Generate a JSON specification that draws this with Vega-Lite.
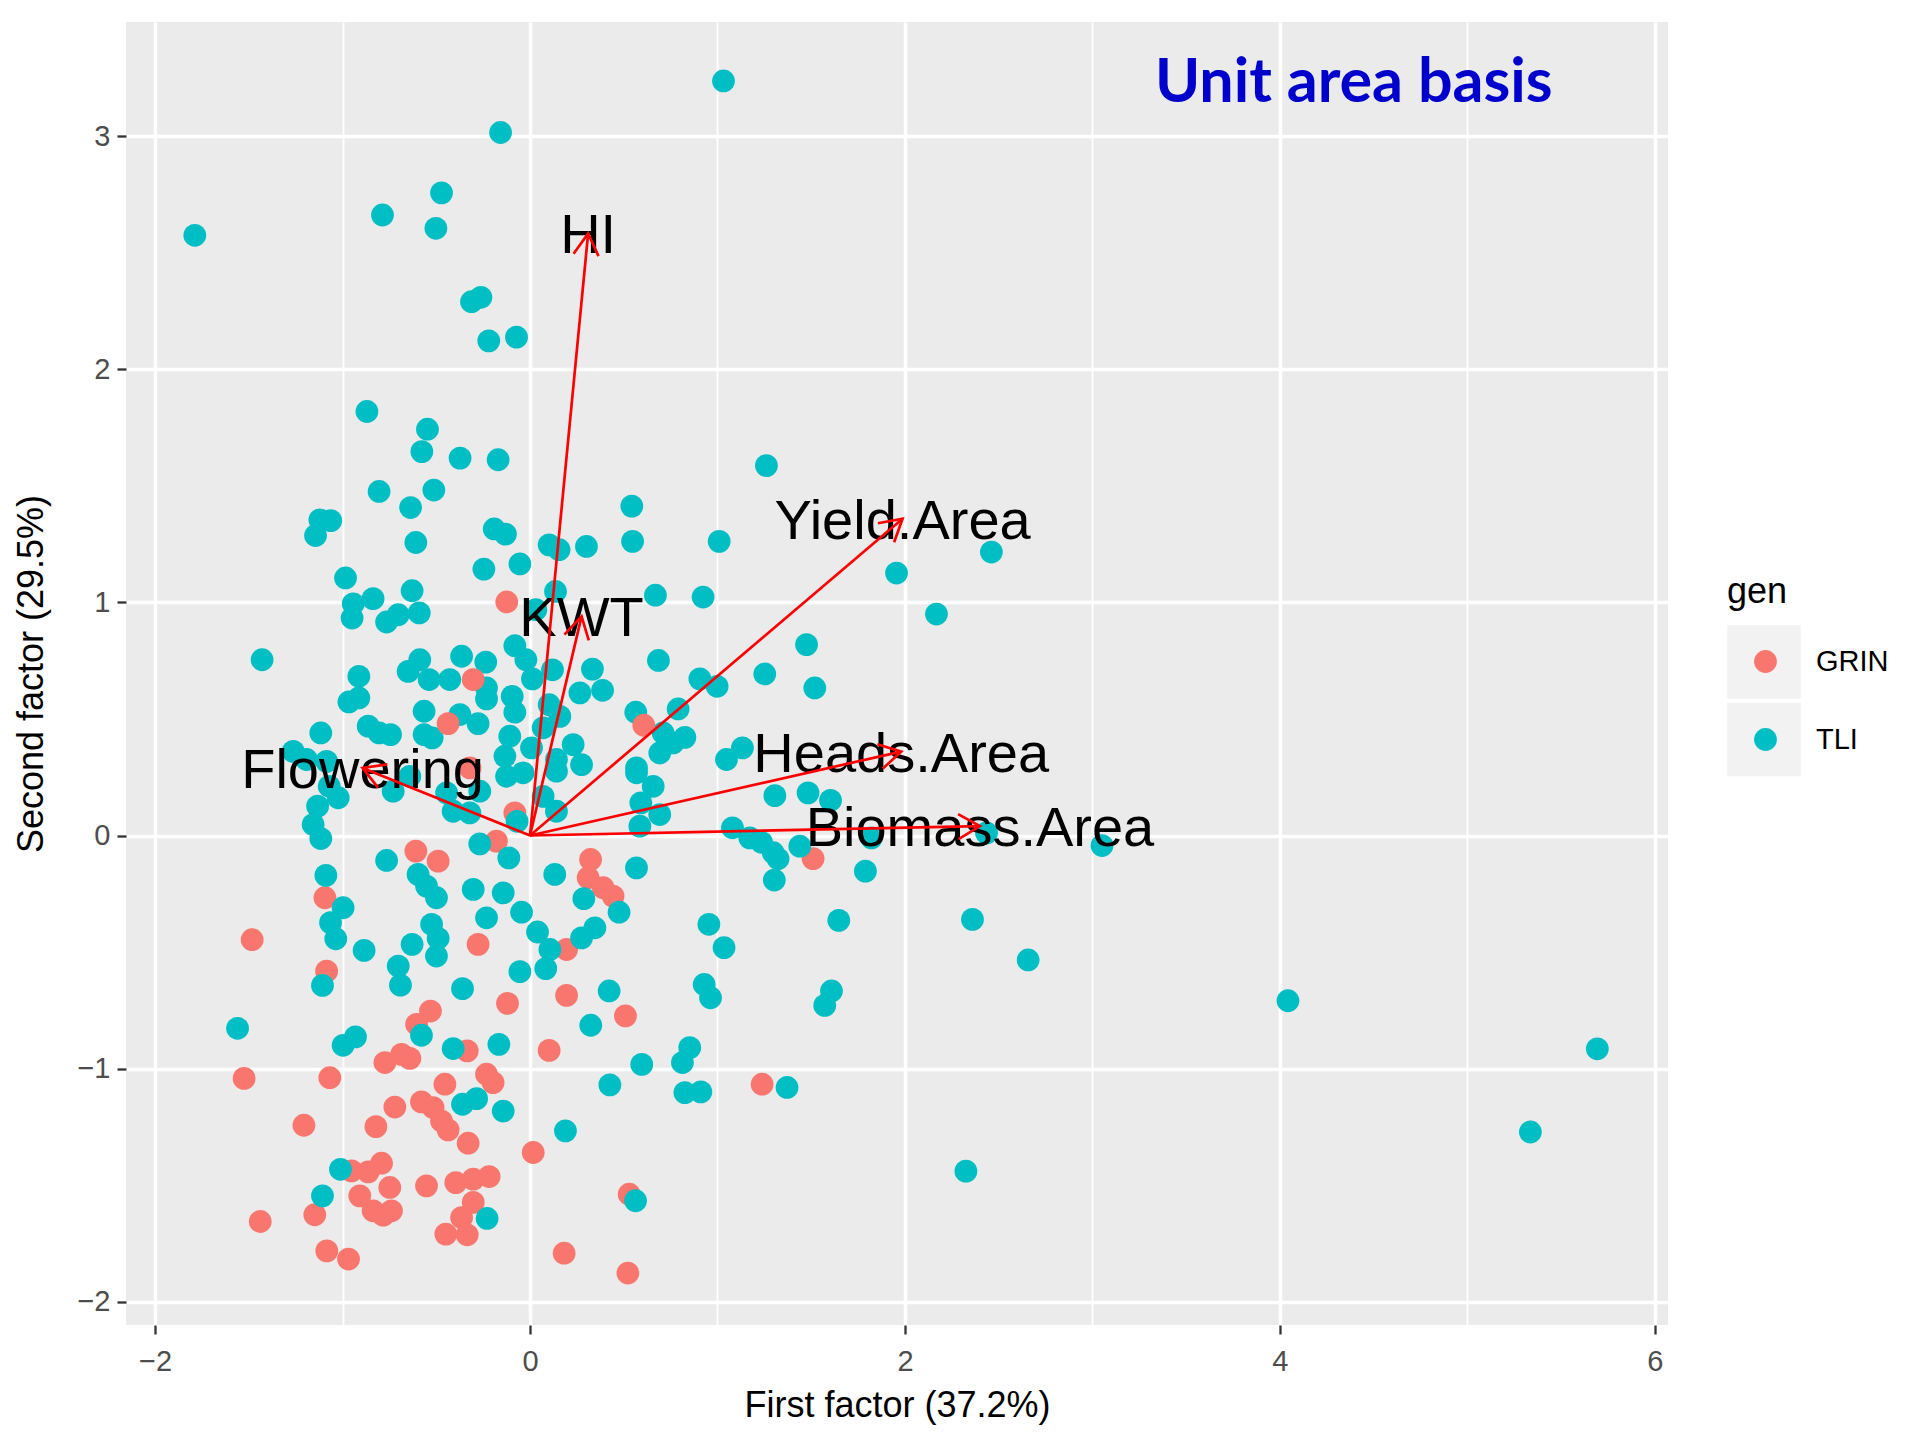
{
  "$schema": "https://vega.github.io/schema/vega-lite/v6.json",
  "width": 1542,
  "height": 1303,
  "autosize": {"type": "none"},
  "padding": {"left": 126, "top": 22, "right": 252, "bottom": 115},
  "background": "white",
  "config": {"view": {"fill": "#EBEBEB", "stroke": null}, "font": "Liberation Sans"},
  "datasets": {
    "pts": [
      {"f1": -0.32, "f2": 0.29, "gen": "GRIN"}, {"f1": -0.081, "f2": 0.097, "gen": "GRIN"}, {"f1": -0.179, "f2": -0.024, "gen": "GRIN"},
      {"f1": -0.609, "f2": -0.067, "gen": "GRIN"}, {"f1": -0.49, "f2": -0.11, "gen": "GRIN"}, {"f1": -1.094, "f2": -0.267, "gen": "GRIN"},
      {"f1": -0.277, "f2": -0.467, "gen": "GRIN"}, {"f1": 0.195, "f2": -0.489, "gen": "GRIN"}, {"f1": -1.085, "f2": -0.582, "gen": "GRIN"},
      {"f1": -0.12, "f2": -0.72, "gen": "GRIN"}, {"f1": 0.195, "f2": -0.686, "gen": "GRIN"}, {"f1": -1.482, "f2": -0.447, "gen": "GRIN"},
      {"f1": -0.531, "f2": -0.753, "gen": "GRIN"}, {"f1": -0.605, "f2": -0.81, "gen": "GRIN"}, {"f1": -0.335, "f2": -0.924, "gen": "GRIN"},
      {"f1": 0.102, "f2": -0.922, "gen": "GRIN"}, {"f1": -0.774, "f2": -0.974, "gen": "GRIN"}, {"f1": -0.685, "f2": -0.939, "gen": "GRIN"},
      {"f1": -0.641, "f2": -0.956, "gen": "GRIN"}, {"f1": -1.525, "f2": -1.042, "gen": "GRIN"}, {"f1": -1.068, "f2": -1.039, "gen": "GRIN"},
      {"f1": -0.232, "f2": -1.024, "gen": "GRIN"}, {"f1": -0.197, "f2": -1.06, "gen": "GRIN"}, {"f1": -0.454, "f2": -1.067, "gen": "GRIN"},
      {"f1": -0.579, "f2": -1.143, "gen": "GRIN"}, {"f1": -0.517, "f2": -1.167, "gen": "GRIN"}, {"f1": -0.721, "f2": -1.165, "gen": "GRIN"},
      {"f1": -0.472, "f2": -1.225, "gen": "GRIN"}, {"f1": -0.437, "f2": -1.263, "gen": "GRIN"}, {"f1": -0.822, "f2": -1.249, "gen": "GRIN"},
      {"f1": -1.206, "f2": -1.243, "gen": "GRIN"}, {"f1": -0.33, "f2": -1.32, "gen": "GRIN"}, {"f1": 0.017, "f2": -1.36, "gen": "GRIN"},
      {"f1": -0.952, "f2": -1.439, "gen": "GRIN"}, {"f1": -0.863, "f2": -1.443, "gen": "GRIN"}, {"f1": -0.792, "f2": -1.406, "gen": "GRIN"},
      {"f1": -0.748, "f2": -1.51, "gen": "GRIN"}, {"f1": -0.908, "f2": -1.546, "gen": "GRIN"}, {"f1": -0.837, "f2": -1.61, "gen": "GRIN"},
      {"f1": -0.783, "f2": -1.629, "gen": "GRIN"}, {"f1": -0.739, "f2": -1.61, "gen": "GRIN"}, {"f1": -1.148, "f2": -1.627, "gen": "GRIN"},
      {"f1": -0.552, "f2": -1.503, "gen": "GRIN"}, {"f1": -0.396, "f2": -1.489, "gen": "GRIN"}, {"f1": -0.303, "f2": -1.474, "gen": "GRIN"},
      {"f1": -0.218, "f2": -1.463, "gen": "GRIN"}, {"f1": -0.303, "f2": -1.574, "gen": "GRIN"}, {"f1": -0.365, "f2": -1.639, "gen": "GRIN"},
      {"f1": -0.449, "f2": -1.71, "gen": "GRIN"}, {"f1": -0.335, "f2": -1.713, "gen": "GRIN"}, {"f1": -1.439, "f2": -1.656, "gen": "GRIN"},
      {"f1": -1.084, "f2": -1.782, "gen": "GRIN"}, {"f1": -0.968, "f2": -1.817, "gen": "GRIN"}, {"f1": 0.182, "f2": -1.792, "gen": "GRIN"},
      {"f1": 0.529, "f2": -1.539, "gen": "GRIN"}, {"f1": 0.522, "f2": -1.877, "gen": "GRIN"}, {"f1": 1.238, "f2": -1.067, "gen": "GRIN"},
      {"f1": 0.323, "f2": -0.103, "gen": "GRIN"}, {"f1": 0.31, "f2": -0.181, "gen": "GRIN"}, {"f1": 0.39, "f2": -0.224, "gen": "GRIN"},
      {"f1": 0.443, "f2": -0.26, "gen": "GRIN"}, {"f1": 0.509, "f2": -0.774, "gen": "GRIN"}, {"f1": 1.51, "f2": -0.099, "gen": "GRIN"},

      {"f1": 1.032, "f2": 3.237, "gen": "TLI"}, {"f1": -0.157, "f2": 3.016, "gen": "TLI"}, {"f1": -0.472, "f2": 2.757, "gen": "TLI"},
      {"f1": -0.787, "f2": 2.662, "gen": "TLI"}, {"f1": -0.502, "f2": 2.605, "gen": "TLI"}, {"f1": -1.788, "f2": 2.575, "gen": "TLI"},
      {"f1": -0.262, "f2": 2.309, "gen": "TLI"}, {"f1": -0.312, "f2": 2.29, "gen": "TLI"}, {"f1": -0.22, "f2": 2.122, "gen": "TLI"},
      {"f1": -0.072, "f2": 2.138, "gen": "TLI"}, {"f1": -0.87, "f2": 1.819, "gen": "TLI"}, {"f1": -0.547, "f2": 1.743, "gen": "TLI"},
      {"f1": -0.577, "f2": 1.647, "gen": "TLI"}, {"f1": -0.373, "f2": 1.619, "gen": "TLI"}, {"f1": -0.17, "f2": 1.612, "gen": "TLI"},
      {"f1": -0.805, "f2": 1.476, "gen": "TLI"}, {"f1": -0.513, "f2": 1.482, "gen": "TLI"}, {"f1": -0.637, "f2": 1.407, "gen": "TLI"},
      {"f1": -1.121, "f2": 1.354, "gen": "TLI"}, {"f1": -1.063, "f2": 1.351, "gen": "TLI"}, {"f1": -1.144, "f2": 1.287, "gen": "TLI"},
      {"f1": -0.609, "f2": 1.257, "gen": "TLI"}, {"f1": -0.191, "f2": 1.315, "gen": "TLI"}, {"f1": -0.131, "f2": 1.293, "gen": "TLI"},
      {"f1": 0.102, "f2": 1.247, "gen": "TLI"}, {"f1": 0.155, "f2": 1.226, "gen": "TLI"}, {"f1": 0.301, "f2": 1.24, "gen": "TLI"},
      {"f1": -0.246, "f2": 1.143, "gen": "TLI"}, {"f1": -0.054, "f2": 1.165, "gen": "TLI"}, {"f1": -0.984, "f2": 1.105, "gen": "TLI"},
      {"f1": 0.136, "f2": 1.047, "gen": "TLI"}, {"f1": -0.629, "f2": 1.05, "gen": "TLI"}, {"f1": -0.837, "f2": 1.016, "gen": "TLI"},
      {"f1": -0.943, "f2": 0.994, "gen": "TLI"}, {"f1": -0.949, "f2": 0.933, "gen": "TLI"}, {"f1": -0.765, "f2": 0.916, "gen": "TLI"},
      {"f1": -0.703, "f2": 0.947, "gen": "TLI"}, {"f1": -0.591, "f2": 0.955, "gen": "TLI"}, {"f1": 0.031, "f2": 0.969, "gen": "TLI"},
      {"f1": -1.429, "f2": 0.754, "gen": "TLI"}, {"f1": -0.913, "f2": 0.683, "gen": "TLI"}, {"f1": -0.588, "f2": 0.754, "gen": "TLI"},
      {"f1": -0.65, "f2": 0.704, "gen": "TLI"}, {"f1": -0.538, "f2": 0.669, "gen": "TLI"}, {"f1": -0.428, "f2": 0.669, "gen": "TLI"},
      {"f1": -0.365, "f2": 0.769, "gen": "TLI"}, {"f1": -0.236, "f2": 0.744, "gen": "TLI"}, {"f1": -0.232, "f2": 0.633, "gen": "TLI"},
      {"f1": -0.232, "f2": 0.586, "gen": "TLI"}, {"f1": -0.081, "f2": 0.814, "gen": "TLI"}, {"f1": -0.022, "f2": 0.754, "gen": "TLI"},
      {"f1": 0.013, "f2": 0.672, "gen": "TLI"}, {"f1": 0.12, "f2": 0.711, "gen": "TLI"}, {"f1": -0.095, "f2": 0.597, "gen": "TLI"},
      {"f1": -0.081, "f2": 0.529, "gen": "TLI"}, {"f1": 0.102, "f2": 0.561, "gen": "TLI"}, {"f1": 0.159, "f2": 0.511, "gen": "TLI"},
      {"f1": -0.966, "f2": 0.573, "gen": "TLI"}, {"f1": -0.913, "f2": 0.59, "gen": "TLI"}, {"f1": -0.565, "f2": 0.533, "gen": "TLI"},
      {"f1": -0.374, "f2": 0.519, "gen": "TLI"}, {"f1": -0.277, "f2": 0.48, "gen": "TLI"}, {"f1": -0.863, "f2": 0.469, "gen": "TLI"},
      {"f1": -0.805, "f2": 0.44, "gen": "TLI"}, {"f1": -0.744, "f2": 0.433, "gen": "TLI"}, {"f1": -0.565, "f2": 0.433, "gen": "TLI"},
      {"f1": -0.522, "f2": 0.419, "gen": "TLI"}, {"f1": -0.108, "f2": 0.426, "gen": "TLI"}, {"f1": -1.116, "f2": 0.44, "gen": "TLI"},
      {"f1": 0.07, "f2": 0.462, "gen": "TLI"}, {"f1": 0.23, "f2": 0.39, "gen": "TLI"}, {"f1": 0.008, "f2": 0.376, "gen": "TLI"},
      {"f1": -0.134, "f2": 0.34, "gen": "TLI"}, {"f1": -1.263, "f2": 0.361, "gen": "TLI"}, {"f1": 0.141, "f2": 0.326, "gen": "TLI"},
      {"f1": -1.192, "f2": 0.326, "gen": "TLI"}, {"f1": -1.085, "f2": 0.318, "gen": "TLI"},
      {"f1": 1.261, "f2": 1.587, "gen": "TLI"}, {"f1": 0.543, "f2": 1.413, "gen": "TLI"}, {"f1": 0.547, "f2": 1.262, "gen": "TLI"},
      {"f1": 1.009, "f2": 1.262, "gen": "TLI"}, {"f1": 1.955, "f2": 1.126, "gen": "TLI"}, {"f1": 0.669, "f2": 1.031, "gen": "TLI"},
      {"f1": 0.923, "f2": 1.023, "gen": "TLI"}, {"f1": 2.168, "f2": 0.95, "gen": "TLI"}, {"f1": 1.475, "f2": 0.819, "gen": "TLI"},
      {"f1": 0.685, "f2": 0.751, "gen": "TLI"}, {"f1": 0.333, "f2": 0.714, "gen": "TLI"}, {"f1": 1.252, "f2": 0.693, "gen": "TLI"},
      {"f1": 0.906, "f2": 0.672, "gen": "TLI"}, {"f1": 0.998, "f2": 0.64, "gen": "TLI"}, {"f1": 1.519, "f2": 0.633, "gen": "TLI"},
      {"f1": 0.266, "f2": 0.612, "gen": "TLI"}, {"f1": 0.387, "f2": 0.623, "gen": "TLI"}, {"f1": 0.564, "f2": 0.529, "gen": "TLI"},
      {"f1": 0.79, "f2": 0.543, "gen": "TLI"}, {"f1": 0.826, "f2": 0.421, "gen": "TLI"}, {"f1": 0.763, "f2": 0.397, "gen": "TLI"},
      {"f1": 0.692, "f2": 0.354, "gen": "TLI"}, {"f1": 0.568, "f2": 0.29, "gen": "TLI"}, {"f1": 0.275, "f2": 0.304, "gen": "TLI"},
      {"f1": 1.133, "f2": 0.376, "gen": "TLI"}, {"f1": 1.048, "f2": 0.326, "gen": "TLI"}, {"f1": 0.71, "f2": 0.44, "gen": "TLI"},
      {"f1": 2.461, "f2": 1.216, "gen": "TLI"},
      {"f1": -1.133, "f2": 0.126, "gen": "TLI"}, {"f1": -1.157, "f2": 0.047, "gen": "TLI"}, {"f1": -1.116, "f2": -0.013, "gen": "TLI"},
      {"f1": -1.023, "f2": 0.162, "gen": "TLI"}, {"f1": -1.071, "f2": 0.211, "gen": "TLI"}, {"f1": -0.73, "f2": 0.19, "gen": "TLI"},
      {"f1": -0.641, "f2": 0.254, "gen": "TLI"}, {"f1": -0.41, "f2": 0.104, "gen": "TLI"}, {"f1": -0.321, "f2": 0.097, "gen": "TLI"},
      {"f1": -0.268, "f2": 0.19, "gen": "TLI"}, {"f1": -0.445, "f2": 0.183, "gen": "TLI"}, {"f1": -0.069, "f2": 0.061, "gen": "TLI"},
      {"f1": 0.07, "f2": 0.168, "gen": "TLI"}, {"f1": 0.141, "f2": 0.104, "gen": "TLI"}, {"f1": 0.141, "f2": 0.276, "gen": "TLI"},
      {"f1": -0.125, "f2": 0.254, "gen": "TLI"}, {"f1": -0.037, "f2": 0.269, "gen": "TLI"}, {"f1": -0.268, "f2": -0.036, "gen": "TLI"},
      {"f1": -0.113, "f2": -0.096, "gen": "TLI"}, {"f1": 0.132, "f2": -0.167, "gen": "TLI"}, {"f1": -0.765, "f2": -0.107, "gen": "TLI"},
      {"f1": -1.089, "f2": -0.171, "gen": "TLI"}, {"f1": -0.597, "f2": -0.167, "gen": "TLI"}, {"f1": -0.552, "f2": -0.217, "gen": "TLI"},
      {"f1": -0.499, "f2": -0.267, "gen": "TLI"}, {"f1": -0.303, "f2": -0.231, "gen": "TLI"}, {"f1": -0.143, "f2": -0.246, "gen": "TLI"},
      {"f1": -0.232, "f2": -0.353, "gen": "TLI"}, {"f1": -0.045, "f2": -0.329, "gen": "TLI"}, {"f1": -0.997, "f2": -0.31, "gen": "TLI"},
      {"f1": -1.064, "f2": -0.374, "gen": "TLI"}, {"f1": -1.036, "f2": -0.443, "gen": "TLI"}, {"f1": -0.885, "f2": -0.493, "gen": "TLI"},
      {"f1": -0.525, "f2": -0.381, "gen": "TLI"}, {"f1": -0.49, "f2": -0.441, "gen": "TLI"}, {"f1": -0.499, "f2": -0.517, "gen": "TLI"},
      {"f1": -0.629, "f2": -0.467, "gen": "TLI"}, {"f1": 0.04, "f2": -0.414, "gen": "TLI"}, {"f1": 0.106, "f2": -0.489, "gen": "TLI"},
      {"f1": 0.084, "f2": -0.571, "gen": "TLI"}, {"f1": -0.054, "f2": -0.584, "gen": "TLI"}, {"f1": -0.703, "f2": -0.56, "gen": "TLI"},
      {"f1": -0.691, "f2": -0.642, "gen": "TLI"}, {"f1": -1.107, "f2": -0.643, "gen": "TLI"}, {"f1": -0.36, "f2": -0.657, "gen": "TLI"},
      {"f1": -1.56, "f2": -0.827, "gen": "TLI"}, {"f1": -0.579, "f2": -0.857, "gen": "TLI"}, {"f1": -0.997, "f2": -0.9, "gen": "TLI"},
      {"f1": -0.931, "f2": -0.864, "gen": "TLI"}, {"f1": -0.41, "f2": -0.914, "gen": "TLI"}, {"f1": -0.166, "f2": -0.896, "gen": "TLI"},
      {"f1": 0.568, "f2": 0.269, "gen": "TLI"}, {"f1": 0.657, "f2": 0.211, "gen": "TLI"}, {"f1": 0.591, "f2": 0.14, "gen": "TLI"},
      {"f1": 0.692, "f2": 0.09, "gen": "TLI"}, {"f1": 0.586, "f2": 0.04, "gen": "TLI"}, {"f1": 1.306, "f2": 0.171, "gen": "TLI"},
      {"f1": 1.483, "f2": 0.183, "gen": "TLI"}, {"f1": 1.603, "f2": 0.151, "gen": "TLI"}, {"f1": 1.08, "f2": 0.033, "gen": "TLI"},
      {"f1": 1.172, "f2": -0.01, "gen": "TLI"}, {"f1": 1.235, "f2": -0.029, "gen": "TLI"}, {"f1": 1.297, "f2": -0.074, "gen": "TLI"},
      {"f1": 1.323, "f2": -0.1, "gen": "TLI"}, {"f1": 1.303, "f2": -0.191, "gen": "TLI"}, {"f1": 1.439, "f2": -0.046, "gen": "TLI"},
      {"f1": 1.821, "f2": -0.01, "gen": "TLI"}, {"f1": 1.789, "f2": -0.153, "gen": "TLI"}, {"f1": 1.647, "f2": -0.364, "gen": "TLI"},
      {"f1": 0.954, "f2": -0.381, "gen": "TLI"}, {"f1": 1.035, "f2": -0.481, "gen": "TLI"}, {"f1": 0.929, "f2": -0.639, "gen": "TLI"},
      {"f1": 0.963, "f2": -0.696, "gen": "TLI"}, {"f1": 1.608, "f2": -0.667, "gen": "TLI"}, {"f1": 1.572, "f2": -0.729, "gen": "TLI"},
      {"f1": 0.568, "f2": -0.139, "gen": "TLI"}, {"f1": 0.287, "f2": -0.271, "gen": "TLI"}, {"f1": 0.475, "f2": -0.329, "gen": "TLI"},
      {"f1": 0.346, "f2": -0.396, "gen": "TLI"}, {"f1": 0.275, "f2": -0.439, "gen": "TLI"}, {"f1": 0.422, "f2": -0.667, "gen": "TLI"},
      {"f1": 0.324, "f2": -0.814, "gen": "TLI"},
      {"f1": -0.36, "f2": -1.153, "gen": "TLI"}, {"f1": -0.285, "f2": -1.129, "gen": "TLI"}, {"f1": -0.143, "f2": -1.182, "gen": "TLI"},
      {"f1": 0.189, "f2": -1.267, "gen": "TLI"}, {"f1": -1.011, "f2": -1.432, "gen": "TLI"}, {"f1": -1.107, "f2": -1.546, "gen": "TLI"},
      {"f1": -0.229, "f2": -1.643, "gen": "TLI"}, {"f1": 0.596, "f2": -0.982, "gen": "TLI"}, {"f1": 0.852, "f2": -0.91, "gen": "TLI"},
      {"f1": 0.813, "f2": -0.974, "gen": "TLI"}, {"f1": 0.426, "f2": -1.07, "gen": "TLI"}, {"f1": 0.826, "f2": -1.103, "gen": "TLI"},
      {"f1": 0.911, "f2": -1.1, "gen": "TLI"}, {"f1": 1.371, "f2": -1.081, "gen": "TLI"}, {"f1": 0.563, "f2": -1.567, "gen": "TLI"},
      {"f1": 2.325, "f2": -1.44, "gen": "TLI"},
      {"f1": 2.435, "f2": 0.011, "gen": "TLI"}, {"f1": 3.051, "f2": -0.043, "gen": "TLI"}, {"f1": 2.36, "f2": -0.36, "gen": "TLI"},
      {"f1": 2.657, "f2": -0.534, "gen": "TLI"}, {"f1": 4.043, "f2": -0.709, "gen": "TLI"}, {"f1": 5.693, "f2": -0.915, "gen": "TLI"},
      {"f1": 5.336, "f2": -1.272, "gen": "TLI"},

      {"f1": -0.124, "f2": 1.002, "gen": "GRIN"}, {"f1": -0.303, "f2": 0.669, "gen": "GRIN"}, {"f1": -0.437, "f2": 0.48, "gen": "GRIN"},
      {"f1": 0.607, "f2": 0.473, "gen": "GRIN"}
    ],
    "arrows": [
      {"var": "HI", "px": 0.31, "py": 2.583},
      {"var": "KWT", "px": 0.275, "py": 0.94},
      {"var": "Yield.Area", "px": 1.987, "py": 1.359},
      {"var": "Heads.Area", "px": 1.98, "py": 0.36},
      {"var": "Biomass.Area", "px": 2.4, "py": 0.04},
      {"var": "Flowering", "px": -0.893, "py": 0.29}
    ],
    "heading": [{"label": "Unit area basis"}]
  },
  "layer": [
    {
      "data": {"name": "pts"},
      "mark": {"type": "point", "filled": true, "color": "#F2F2F2", "size": 0, "opacity": 1, "strokeWidth": 0},
      "encoding": {
        "x": {"field": "f1", "type": "quantitative", "scale": {"domain": [-2.155, 6.07], "nice": false, "zero": false}},
        "y": {"field": "f2", "type": "quantitative", "scale": {"domain": [-2.1, 3.49], "nice": false, "zero": false}},
        "shape": {
          "field": "gen", "type": "nominal",
          "scale": {"range": ["square", "square"]},
          "legend": {
            "orient": "none",
            "legendX": 1601,
            "legendY": 553,
            "zindex": 1,
            "title": "gen",
            "titleFont": "Liberation Sans",
            "titleFontSize": 36,
            "titleFontWeight": "normal",
            "titleColor": "black",
            "titleOpacity": 0,
            "titlePadding": 14,
            "labelExpr": "''",
            "labelFontSize": 29,
            "symbolType": "square",
            "symbolSize": 5400,
            "symbolFillColor": "#F2F2F2",
            "symbolStrokeWidth": 0,
            "symbolOpacity": 1,
            "symbolOffset": 0,
            "rowPadding": 3.5,
            "padding": 0
          }
        }
      }
    },
    {
      "data": {"name": "pts"},
      "mark": {"type": "point", "shape": "circle", "filled": true, "size": 519, "opacity": 1, "strokeWidth": 0},
      "encoding": {
        "x": {
          "field": "f1", "type": "quantitative",
          "scale": {"domain": [-2.155, 6.07], "nice": false, "zero": false},
          "axis": {
            "title": "First factor (37.2%)",
            "values": [-2, -1, 0, 1, 2, 3, 4, 5, 6],
            "format": "d",
            "labelExpr": "datum.value % 2 === 0 ? datum.label : ''",
            "domain": false,
            "grid": true,
            "gridColor": "white",
            "gridOpacity": 1,
            "gridWidth": {"condition": {"test": "datum.value % 2 !== 0", "value": 1.8}, "value": 3.5},
            "tickColor": "#333333",
            "tickWidth": 2.3,
            "tickSize": 9,
            "tickOpacity": {"condition": {"test": "datum.value % 2 !== 0", "value": 0}, "value": 1},
            "labelFont": "Liberation Sans",
            "labelFontSize": 29,
            "labelColor": "#4D4D4D",
            "labelPadding": 13,
            "labelFlush": false,
            "labelOverlap": false,
            "titleFont": "Liberation Sans",
            "titleFontSize": 36,
            "titleFontWeight": "normal",
            "titleColor": "black",
            "titlePadding": 12
          }
        },
        "y": {
          "field": "f2", "type": "quantitative",
          "scale": {"domain": [-2.1, 3.49], "nice": false, "zero": false},
          "axis": {
            "title": "Second factor (29.5%)",
            "values": [-2, -1.5, -1, -0.5, 0, 0.5, 1, 1.5, 2, 2.5, 3],
            "format": "d",
            "labelExpr": "datum.value % 1 === 0 ? datum.label : ''",
            "domain": false,
            "grid": true,
            "gridColor": "white",
            "gridOpacity": 1,
            "gridWidth": {"condition": {"test": "datum.value % 1 !== 0", "value": 1.8}, "value": 3.5},
            "tickColor": "#333333",
            "tickWidth": 2.3,
            "tickSize": 9,
            "tickOpacity": {"condition": {"test": "datum.value % 1 !== 0", "value": 0}, "value": 1},
            "labelFont": "Liberation Sans",
            "labelFontSize": 29,
            "labelColor": "#4D4D4D",
            "labelPadding": 7,
            "labelFlush": false,
            "labelOverlap": false,
            "titleFont": "Liberation Sans",
            "titleFontSize": 36,
            "titleFontWeight": "normal",
            "titleColor": "black",
            "titlePadding": 26
          }
        },
        "color": {
          "field": "gen", "type": "nominal",
          "scale": {"domain": ["GRIN", "TLI"], "range": ["#F8766D", "#00BFC4"]},
          "legend": {
            "orient": "none",
            "legendX": 1601,
            "legendY": 553,
            "zindex": 2,
            "title": "gen",
            "titleFont": "Liberation Sans",
            "titleFontSize": 36,
            "titleFontWeight": "normal",
            "titleColor": "black",
            "titlePadding": 36,
            "labelFont": "Liberation Sans",
            "labelFontSize": 29,
            "labelColor": "black",
            "symbolType": "circle",
            "symbolSize": 519,
            "symbolStrokeWidth": 0,
            "symbolOpacity": 1,
            "symbolOffset": 24,
            "labelOffset": 36,
            "rowPadding": 48,
            "padding": 0
          }
        }
      }
    },
    {
      "data": {"name": "arrows"},
      "mark": {"type": "text", "font": "Liberation Sans", "fontSize": 56, "color": "black", "align": "center", "baseline": "middle", "dy": 3},
      "encoding": {
        "x": {"field": "px", "type": "quantitative", "scale": {"domain": [-2.155, 6.07], "nice": false, "zero": false}},
        "y": {"field": "py", "type": "quantitative", "scale": {"domain": [-2.1, 3.49], "nice": false, "zero": false}},
        "text": {"field": "var", "type": "nominal"}
      }
    },
    {
      "data": {"name": "arrows"},
      "mark": {"type": "rule", "color": "#FF0000", "strokeWidth": 2.7},
      "encoding": {
        "x": {"field": "px", "type": "quantitative", "scale": {"domain": [-2.155, 6.07], "nice": false, "zero": false}},
        "y": {"field": "py", "type": "quantitative", "scale": {"domain": [-2.1, 3.49], "nice": false, "zero": false}},
        "x2": {"datum": 0},
        "y2": {"datum": 0}
      }
    },
    {
      "data": {"name": "arrows"},
      "mark": {
        "type": "point",
        "shape": "M-0.5,0.866L0,0L0.5,0.866",
        "filled": false,
        "color": "#FF0000",
        "strokeWidth": 2.7,
        "size": 2500,
        "opacity": 1,
        "angle": {"expr": "atan2(datum.px * 187.5, datum.py * 233.3) * 180 / PI"}
      },
      "encoding": {
        "x": {"field": "px", "type": "quantitative", "scale": {"domain": [-2.155, 6.07], "nice": false, "zero": false}},
        "y": {"field": "py", "type": "quantitative", "scale": {"domain": [-2.1, 3.49], "nice": false, "zero": false}}
      }
    },
    {
      "data": {"name": "heading"},
      "mark": {"type": "text", "font": "Lato", "fontWeight": "bold", "fontSize": 61, "color": "#0000CD", "align": "center", "baseline": "middle", "dy": 2},
      "encoding": {
        "x": {"datum": 4.394, "type": "quantitative", "scale": {"domain": [-2.155, 6.07], "nice": false, "zero": false}},
        "y": {"datum": 3.232, "type": "quantitative", "scale": {"domain": [-2.1, 3.49], "nice": false, "zero": false}},
        "text": {"field": "label", "type": "nominal"}
      }
    }
  ]
}
